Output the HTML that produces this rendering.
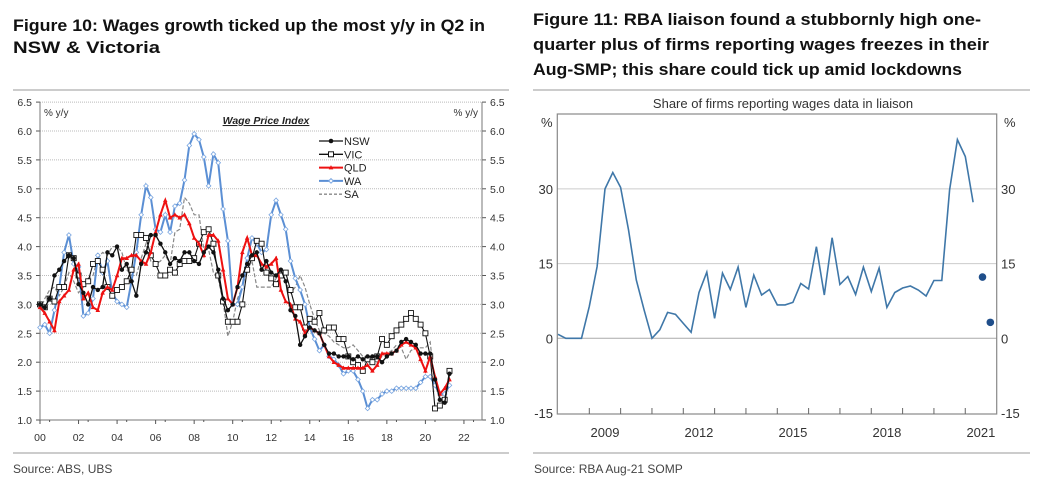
<!DOCTYPE html>
<html><head><meta charset="utf-8"><style>
body{margin:0;background:#fff;width:1038px;height:489px;overflow:hidden;font-family:"Liberation Sans",sans-serif}
svg{position:absolute;left:0;top:0}
</style></head><body>
<svg id="s" width="1038" height="489">
<text x="13" y="31" font-size="17" font-weight="bold" fill="#111" textLength="472" lengthAdjust="spacingAndGlyphs">Figure 10: Wages growth ticked up the most y/y in Q2 in</text>
<text x="13" y="53" font-size="17" font-weight="bold" fill="#111" textLength="147" lengthAdjust="spacingAndGlyphs">NSW &amp; Victoria</text>
<text x="533" y="25" font-size="17" font-weight="bold" fill="#111" textLength="448" lengthAdjust="spacingAndGlyphs">Figure 11: RBA liaison found a stubbornly high one-</text>
<text x="533" y="50" font-size="17" font-weight="bold" fill="#111" textLength="456" lengthAdjust="spacingAndGlyphs">quarter plus of firms reporting wages freezes in their</text>
<text x="533" y="75" font-size="17" font-weight="bold" fill="#111" textLength="429" lengthAdjust="spacingAndGlyphs">Aug-SMP; this share could tick up amid lockdowns</text>
<line x1="13" y1="90" x2="509" y2="90" stroke="#ccc" stroke-width="2"/>
<line x1="533" y1="90" x2="1030" y2="90" stroke="#ccc" stroke-width="2"/>
<line x1="13" y1="453" x2="509" y2="453" stroke="#ccc" stroke-width="2"/>
<line x1="533" y1="453" x2="1030" y2="453" stroke="#ccc" stroke-width="2"/>
<text x="13" y="473" font-size="12" fill="#444">Source:  ABS, UBS</text>
<text x="534" y="473" font-size="12" fill="#444">Source:  RBA Aug-21  SOMP</text>
<g id="L"></g><g id="R"></g>
</svg>
<script>
const NS="http://www.w3.org/2000/svg";
function mk(p,t,a,txt){const e=document.createElementNS(NS,t);for(const k in a)e.setAttribute(k,a[k]);if(txt!==undefined)e.textContent=txt;p.appendChild(e);return e;}
// ---- Left chart data (quarterly from 2000Q1) ----
const leftYTicks=[1.0,1.5,2.0,2.5,3.0,3.5,4.0,4.5,5.0,5.5,6.0,6.5];
const leftXTicks=["00","02","04","06","08","10","12","14","16","18","20","22"];
const nsw=[3.0,2.95,3.1,3.5,3.6,3.75,3.85,3.8,3.35,3.2,3.0,3.3,3.25,3.3,3.9,3.85,4.0,3.6,3.7,3.4,3.15,3.7,3.9,4.2,4.2,4.05,3.9,3.7,3.8,3.75,3.9,3.9,3.75,3.7,3.9,4.0,3.9,3.6,3.1,2.9,3.0,3.3,3.5,3.7,3.85,3.9,3.6,3.75,3.55,3.5,3.6,3.4,2.9,2.8,2.3,2.45,2.6,2.55,2.5,2.3,2.15,2.15,2.1,2.1,2.1,2.05,2.1,2.05,2.1,2.1,2.1,2.0,2.1,2.15,2.2,2.35,2.4,2.35,2.3,2.15,2.15,2.15,1.7,1.35,1.3,1.8];
const vic=[3.0,2.95,3.1,3.05,3.3,3.3,3.85,3.8,3.5,3.35,3.4,3.7,3.75,3.6,3.3,3.15,3.25,3.3,3.4,3.6,4.2,4.2,4.15,3.85,3.7,3.5,3.5,3.6,3.55,3.7,3.75,3.75,3.8,4.05,4.25,4.3,4.05,3.5,3.05,2.7,2.7,2.7,3.0,3.6,3.8,4.1,4.05,3.55,3.45,3.35,3.5,3.55,3.25,2.95,2.95,2.6,2.75,2.7,2.85,2.55,2.6,2.6,2.4,2.4,2.1,2.0,1.95,1.85,2.05,2.0,2.1,2.4,2.3,2.45,2.55,2.65,2.75,2.85,2.75,2.65,2.5,2.1,1.2,1.25,1.35,1.85];
const qld=[2.95,2.85,2.7,2.55,3.05,3.15,3.25,3.6,3.7,3.1,3.2,2.95,2.9,3.2,3.3,3.25,3.5,3.8,3.8,3.85,3.85,3.75,3.7,3.9,4.25,4.55,4.8,4.5,4.55,4.5,4.55,4.4,4.15,4.05,3.85,4.2,4.2,4.1,3.6,3.1,3.0,3.3,3.9,4.15,3.85,3.85,3.7,3.65,3.7,3.8,3.25,3.05,3.0,2.75,2.7,2.5,2.6,2.55,2.5,2.3,2.1,2.0,1.95,1.9,1.9,1.9,1.9,1.9,1.95,1.85,1.95,2.15,2.15,2.15,2.2,2.3,2.35,2.3,2.25,2.05,1.85,2.1,1.75,1.45,1.55,1.7];
const wa=[2.6,2.65,2.5,2.9,3.3,3.9,4.2,3.7,3.65,2.8,2.85,3.1,3.85,3.55,3.75,3.2,3.05,3.0,2.95,3.4,3.9,4.55,5.05,4.85,4.3,4.25,4.55,4.25,4.7,4.75,5.15,5.75,5.95,5.85,5.55,5.05,5.6,5.45,4.65,4.1,3.0,3.0,3.3,3.8,4.15,4.05,3.9,3.95,4.55,4.8,4.55,4.3,3.75,3.45,3.25,3.0,2.6,2.4,2.2,2.3,2.1,2.05,1.95,1.8,1.85,1.85,1.7,1.5,1.2,1.35,1.35,1.45,1.5,1.5,1.55,1.55,1.55,1.55,1.55,1.65,1.75,1.75,1.6,1.45,1.45,1.6];
const sa=[2.9,3.1,3.25,3.3,3.15,3.3,3.55,3.4,3.2,3.3,3.45,3.5,3.8,3.9,3.85,4.0,4.0,3.9,3.6,3.5,3.5,3.8,4.05,3.75,3.7,3.75,3.85,3.7,4.25,4.3,4.85,4.75,4.55,4.55,3.95,3.95,3.55,3.45,3.05,2.45,2.7,3.1,3.3,3.6,3.75,3.3,3.3,3.3,3.3,3.45,3.55,3.4,3.2,3.3,3.5,3.3,3.0,2.75,2.55,2.5,2.45,2.35,2.3,2.25,2.25,2.3,2.2,2.1,2.1,2.05,2.0,2.1,2.15,2.2,2.3,2.25,2.05,2.2,2.25,2.25,2.25,2.35,1.6,1.4,1.45,1.6];
// ---- Right chart data (quarterly from 2008Q1) ----
const rightYTicks=[-15,0,15,30];
const rightXLabels=[2009,2012,2015,2018,2021];
const share=[0.8,0,0,0,6.4,14.4,30,33.3,30.3,21.8,11.7,5.7,0,1.7,5.2,4.8,3,1.2,9.2,13.3,4,13.1,9.8,14.3,6.2,12.7,8.7,9.8,6.7,6.7,7.2,11,9.9,18.4,8.7,20.2,10.8,12.4,8.8,14.3,9.4,14.1,6.2,9.2,10.1,10.5,9.7,8.5,11.6,11.6,29.8,39.9,36.5,27.3];
const dotX=[2021.55,2021.8];
const dotY=[12.3,3.2];

// Left axes
const L=document.getElementById('L');
const lx=t=>40+(t-2000)*19.27, ly=v=>420-(v-1)*57.8;
leftYTicks.forEach(v=>{
  if(v>1){const g=mk(L,'line',{x1:40,x2:482,y1:ly(v),y2:ly(v),stroke:'#bbb','stroke-dasharray':'1,1'});
  
  }
  const a=mk(L,'text',{x:32,y:ly(v)+4,'font-size':10.5,'text-anchor':'end',fill:'#333'},v.toFixed(1));
  
  
  const b=mk(L,'text',{x:490,y:ly(v)+4,'font-size':10.5,fill:'#333'},v.toFixed(1));
  
  
  mk(L,'line',{x1:36,x2:40,y1:ly(v),y2:ly(v),stroke:'#555'});
  mk(L,'line',{x1:482,x2:486,y1:ly(v),y2:ly(v),stroke:'#555'});
});
const ax=mk(L,'path',{d:`M40 ${ly(6.5)}V420H482V${ly(6.5)}`,fill:'none',stroke:'#777','stroke-width':1});


leftXTicks.forEach((s,i)=>{
  const x=lx(2000+2*i);
  mk(L,'line',{x1:x,x2:x,y1:420,y2:424,stroke:'#555'});
  mk(L,'line',{x1:x+9.6,x2:x+9.6,y1:420,y2:422,stroke:'#555'});
  const t=mk(L,'text',{x:x,y:441,'font-size':10.5,'text-anchor':'middle',fill:'#333'},s);
  
  
});
[[44,'% y/y','start'],[478,'% y/y','end']].forEach(([x,s,an])=>{
  const t=mk(L,'text',{x:x,y:116,'font-size':10,fill:'#333','text-anchor':an},s);
  
  
});
const wt=mk(L,'text',{x:266,y:124,'font-size':10.5,'font-weight':'bold','font-style':'italic','text-anchor':'middle',fill:'#222','text-decoration':'underline'},'Wage Price Index');


const pts=a=>a.map((v,i)=>`${lx(2000+i*0.25).toFixed(1)},${ly(v).toFixed(1)}`).join(' ');
const series=[
 {n:'sa',d:sa,c:'#888',w:1.2,dash:'4,2',m:null},
 {n:'wa',d:wa,c:'#5b8fd4',w:2,m:'dia'},
 {n:'vic',d:vic,c:'#111',w:1.1,m:'sq'},
 {n:'qld',d:qld,c:'#ee1111',w:2,m:'tri'},
 {n:'nsw',d:nsw,c:'#111',w:1.3,m:'dot'}];
series.forEach(s=>{
  const p=mk(L,'polyline',{points:pts(s.d),fill:'none',stroke:s.c,'stroke-width':s.w,'stroke-dasharray':s.dash||'none'});
  
  
  if(!s.m)return;
  s.d.forEach((v,i)=>{
    const x=lx(2000+i*0.25),y=ly(v);let e;
    if(s.m==='dot')e=mk(L,'circle',{cx:x,cy:y,r:2.2,fill:'#111'});
    else if(s.m==='sq')e=mk(L,'rect',{x:x-2.5,y:y-2.5,width:5,height:5,fill:'#fff',stroke:'#111','stroke-width':0.9});
    else if(s.m==='tri')e=mk(L,'path',{d:`M${x} ${y-2.5}L${x+2.3} ${y+1.8}L${x-2.3} ${y+1.8}Z`,fill:'#e11'});
    else e=mk(L,'path',{d:`M${x} ${y-2.3}L${x+2.3} ${y}L${x} ${y+2.3}L${x-2.3} ${y}Z`,fill:'#fff',stroke:'#7aa6e0','stroke-width':0.8});
    
    
  });
});
// legend
const leg=[['NSW','#111','dot',null],['VIC','#111','sq',null],['QLD','#ee1111','tri',null],['WA','#5b8fd4','dia',null],['SA','#888',null,'3,2']];
leg.forEach(([n,c,m,dash],i)=>{
  const y=141+i*13.3;
  const g=mk(L,'g',{});
  
  
  mk(g,'line',{x1:319,x2:343,y1:y,y2:y,stroke:c,'stroke-width':n==='QLD'||n==='WA'?2:1.3,'stroke-dasharray':dash||'none'});
  if(m==='dot')mk(g,'circle',{cx:331,cy:y,r:2.3,fill:c});
  if(m==='sq')mk(g,'rect',{x:328.5,y:y-2.5,width:5,height:5,fill:'#fff',stroke:c});
  if(m==='tri')mk(g,'path',{d:`M331 ${y-2.5}L333.3 ${y+1.8}L328.7 ${y+1.8}Z`,fill:c});
  if(m==='dia')mk(g,'path',{d:`M331 ${y-2.3}L333.3 ${y}L331 ${y+2.3}L328.7 ${y}Z`,fill:'#fff',stroke:'#7aa6e0'});
  mk(g,'text',{x:344,y:y+4,'font-size':11,fill:'#222'},n);
});

// Right chart
const R=document.getElementById('R');
const rx=t=>589.3+(t-2009)*31.33, ry=v=>338.3-v*4.98;
const rt=mk(R,'text',{x:783,y:108,'font-size':13,'text-anchor':'middle',fill:'#333'},'Share of firms reporting wages data in liaison');


rightYTicks.forEach(v=>{
  if(v>-15){const g=mk(R,'line',{x1:557,x2:997,y1:ry(v),y2:ry(v),stroke:v===0?'#aaa':'#ccc','stroke-width':1});
  
  }
  const a=mk(R,'text',{x:553,y:ry(v)+5,'font-size':13,'text-anchor':'end',fill:'#333'},String(v));
  
  
  const b=mk(R,'text',{x:1001,y:ry(v)+5,'font-size':13,fill:'#333'},String(v));
  
  
});
['%','%'].forEach((s,i)=>{
  const t=mk(R,'text',{x:i?1004:541,y:127,'font-size':13,fill:'#333'},s);
  
  
});
const rax=mk(R,'rect',{x:557.3,y:114,width:439.4,height:300,fill:'none',stroke:'#888','stroke-width':1.2});


for(let y=2009;y<=2021;y++){mk(R,'line',{x1:rx(y),x2:rx(y),y1:414,y2:408,stroke:'#666'});}
rightXLabels.forEach(yr=>{
  const t=mk(R,'text',{x:rx(yr+0.5),y:437,'font-size':13,'text-anchor':'middle',fill:'#333'},String(yr));
  
  
});
const rl=mk(R,'polyline',{points:share.map((v,i)=>`${rx(2008+i*0.25).toFixed(1)},${ry(v).toFixed(1)}`).join(' '),fill:'none',stroke:'#3f77a8','stroke-width':1.6});


dotX.forEach((t,i)=>{
  const c=mk(R,'circle',{cx:rx(t),cy:ry(dotY[i]),r:3.8,fill:'#1f4e8a'});
  
  
});
</script>
</body></html>
